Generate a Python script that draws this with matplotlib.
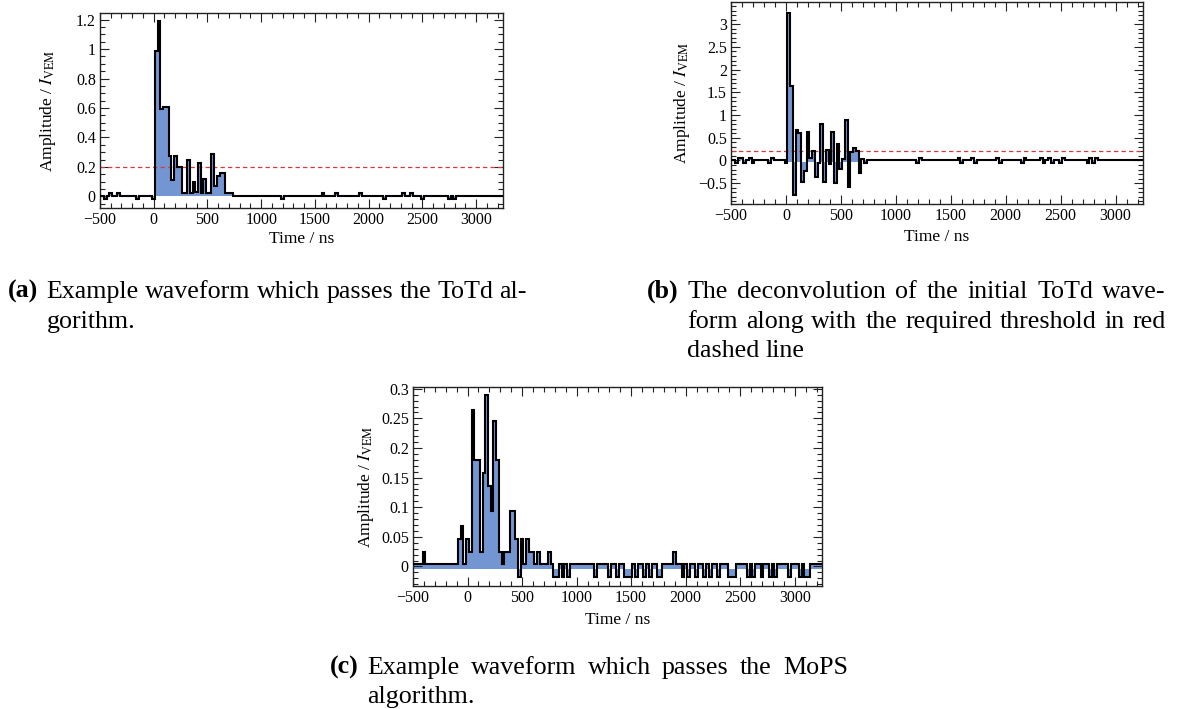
import numpy as np
import matplotlib
matplotlib.use('Agg')
import matplotlib.pyplot as plt
from matplotlib.ticker import MultipleLocator, FuncFormatter

plt.rcParams['font.family'] = ['Liberation Serif', 'DejaVu Serif']
plt.rcParams['mathtext.fontset'] = 'stix'

# ---------------- data ----------------
BIN = 25  # ns
bin_centres = np.arange(-500, 3251, BIN)

# (a) ToTd waveform: non-zero bins
a_times = [-450, -400, -325, -150, 0, 25, 50, 75, 100, 125, 150, 175, 200, 225, 250,
           275, 300, 325, 350, 375, 400, 425, 450, 475, 500, 525, 550, 575, 600,
           625, 650, 675, 700, 725, 1200, 1575, 1700, 1925, 2150, 2325, 2400,
           2500, 2750, 2800]
a_values = [-0.02, 0.02, 0.02, -0.02, -0.02, 0.99, 1.19, 0.59, 0.61, 0.61, 0.275, 0.11,
            0.275, 0.20, 0.20, 0.02, 0.02, 0.25, 0.02, 0.095, 0.03, 0.225, 0.02, 0.117,
            0.02, 0.02, 0.29, 0.07, 0.14, 0.16, 0.16, 0.02, 0.02, 0.02, -0.02, 0.02,
            0.02, 0.02, -0.02, 0.02, 0.02, -0.02, -0.02, -0.02]
a_base = 0.0

# (b) deconvolved ToTd waveform: non-zero bins
b_times = [-450, -425, -400, -375, -325, -300, -150, -125, 0, 25, 50, 75, 100, 125,
           150, 175, 200, 225, 250, 275, 300, 325, 350, 375, 400, 425, 450, 475,
           500, 525, 550, 575, 600, 625, 650, 675, 700, 725, 1200, 1225, 1575, 1600,
           1700, 1725, 1925, 1950, 2150, 2175, 2325, 2350, 2400, 2425, 2500, 2525,
           2750, 2775, 2800, 2825]
b_values = [-0.06, 0.05, 0.06, -0.05, 0.06, -0.05, -0.06, 0.05, -0.06, 3.25, 1.63,
            -0.77, 0.66, 0.61, -0.48, -0.24, 0.62, 0.05, 0.21, -0.37, -0.05, 0.80,
            -0.48, 0.24, -0.07, 0.63, -0.50, 0.37, -0.18, 0.03, 0.90, -0.58, 0.18,
            0.28, 0.21, -0.28, 0.03, -0.05, -0.06, 0.05, 0.06, -0.05, 0.06, -0.05,
            0.06, -0.05, -0.06, 0.05, 0.06, -0.05, 0.06, -0.05, -0.06, 0.05, -0.06,
            0.05, -0.06, 0.05]
b_base = 0.0

# (c) MoPS waveform: bins differing from the baseline level
c_times = [-400, -75, -50, 0, 25, 50, 75, 100, 125, 150, 175, 200, 225, 250, 275,
           300, 350, 375, 400, 425, 450, 475, 500, 550, 575, 600, 650, 750, 800,
           825, 875, 925, 1175, 1300, 1375, 1450, 1475, 1500, 1550, 1625, 1675,
           1750, 1775, 1900, 1975, 2025, 2100, 2175, 2225, 2300, 2400, 2425, 2450,
           2575, 2625, 2700, 2775, 2825, 2950, 3050, 3100, 3125]
c_values = [0.025, 0.047, 0.069, 0.047, 0.025, 0.265, 0.18, 0.18, 0.025, 0.157, 0.29,
            0.135, 0.093, 0.245, 0.18, 0.025, 0.025, 0.025, 0.093, 0.093, 0.047,
            -0.017, 0.047, 0.047, 0.025, 0.025, 0.025, 0.025, -0.017, -0.017, -0.017,
            -0.017, -0.017, -0.017, -0.017, -0.017, -0.017, -0.017, -0.017, -0.017,
            -0.017, -0.017, -0.017, 0.025, -0.017, -0.017, -0.017, -0.017, -0.017,
            -0.017, -0.017, -0.017, -0.017, -0.017, -0.017, -0.017, -0.017, -0.017,
            -0.017, -0.017, -0.017, -0.017]
c_base = 0.004

threshold = 0.2

y_label = 'Amplitude / $I_{\\mathrm{VEM}}$'
x_label = 'Time / ns'

# ---------------- helpers ----------------
W, H = 1188, 709
fig = plt.figure(figsize=(W / 100, H / 100), dpi=100)

BLUE = '#7396d3'
edges = np.append(bin_centres - BIN / 2, bin_centres[-1] + BIN / 2)


def build(times, vals, base):
    y = np.full(bin_centres.shape, base, dtype=float)
    idx = np.searchsorted(bin_centres, times)
    y[idx] = vals
    return y


def fmt(v, p):
    s = '%g' % round(v, 6)
    if s == '-0':
        s = '0'
    return s.replace('-', '\u2212')


def make_axes(rect_px, ylim, ymaj, ymin):
    l, t, r, b = rect_px
    ax = fig.add_axes([l / W, 1 - b / H, (r - l) / W, (b - t) / H])
    ax.set_xlim(-500, 3250)
    ax.set_ylim(*ylim)
    ax.xaxis.set_major_locator(MultipleLocator(500))
    ax.xaxis.set_minor_locator(MultipleLocator(100))
    ax.yaxis.set_major_locator(MultipleLocator(ymaj))
    ax.yaxis.set_minor_locator(MultipleLocator(ymin))
    ax.xaxis.set_major_formatter(FuncFormatter(fmt))
    ax.yaxis.set_major_formatter(FuncFormatter(fmt))
    ax.tick_params(which='both', direction='in', top=True, right=True,
                   labelsize=11.5, width=0.8, colors='#222222', labelcolor='black')
    ax.tick_params(which='major', length=6.5, pad=3)
    ax.tick_params(which='minor', length=3.5)
    for s in ax.spines.values():
        s.set_linewidth(1.0)
        s.set_color('#222222')
    return ax


def draw_trace(ax, y, fill_base):
    ax.stairs(y, edges, baseline=fill_base, fill=True, color=BLUE, lw=0, zorder=1)
    ax.stairs(y, edges, baseline=None, color='black', lw=1.5, zorder=3)


def labels(ax, xl_y, yl_x):
    ax.set_xlabel(x_label, fontsize=12.5)
    ax.set_ylabel(y_label, fontsize=12.5)
    ax.xaxis.label.set_va('center')
    ax.yaxis.label.set_va('center')
    ax.xaxis.set_label_coords(0.5, xl_y)
    ax.yaxis.set_label_coords(yl_x, 0.5)


# ---------------- panel (a) ----------------
ya = build(a_times, a_values, a_base)
axa = make_axes((100, 13, 503, 208), (-0.079, 1.245), 0.2, 0.05)
draw_trace(axa, ya, 0.0)
axa.axhline(threshold, color='#d23c3c', lw=0.9, ls=(0, (3.5, 2.5)), zorder=2)
labels(axa, -0.159, -0.129)

# ---------------- panel (b) ----------------
yb = build(b_times, b_values, b_base)
fill_b = np.where((bin_centres >= 25) & (bin_centres <= 675), -0.045, 0.0)
axb = make_axes((731, 2, 1143, 204), (-0.96, 3.49), 0.5, 0.1)
draw_trace(axb, yb, fill_b)
axb.axhline(threshold, color='#d23c3c', lw=0.9, ls=(0, (3.5, 2.5)), zorder=2)
labels(axb, -0.163, -0.119)

# ---------------- panel (c) ----------------
yc = build(c_times, c_values, c_base)
axc = make_axes((413, 387, 822, 586), (-0.033, 0.303), 0.05, 0.01)
draw_trace(axc, yc, -0.004)
labels(axc, -0.17, -0.115)

# ---------------- captions ----------------
renderer = fig.canvas.get_renderer()
CAP = 18.7
SPACE = 0.25 * CAP * 100 / 72


def put(word, x, y, weight='normal'):
    t = fig.text(x / W, 1 - y / H, word, fontsize=CAP, fontweight=weight,
                 ha='left', va='baseline')
    return t.get_window_extent(renderer=renderer).width


def line(text, x0, y, x1=None):
    words = text.split(' ')
    tmp = [fig.text(0, 0, w, fontsize=CAP) for w in words]
    widths = [t.get_window_extent(renderer=renderer).width for t in tmp]
    for t in tmp:
        t.remove()
    if x1 is None or len(words) == 1:
        gap = SPACE
    else:
        gap = (x1 - x0 - sum(widths)) / (len(words) - 1)
    x = x0
    for w, wd in zip(words, widths):
        put(w, x, y)
        x += wd + gap


def caption(label, x0, right, y0, lines, step=29.5):
    lw = put(label, x0, y0, weight='bold')
    indent = x0 + lw + SPACE + 2
    for i, txt in enumerate(lines):
        last = i == len(lines) - 1
        line(txt, indent, y0 + i * step, None if last else right)


caption('(a)', 8, 527, 298,
        ['Example waveform which passes the ToTd al-', 'gorithm.'])
caption('(b)', 647, 1166, 298,
        ['The deconvolution of the initial ToTd wave-',
         'form along with the required threshold in red', 'dashed line'])
caption('(c)', 330, 848, 674,
        ['Example waveform which passes the MoPS', 'algorithm.'], step=28.5)

fig.savefig('out.png', dpi=100)
